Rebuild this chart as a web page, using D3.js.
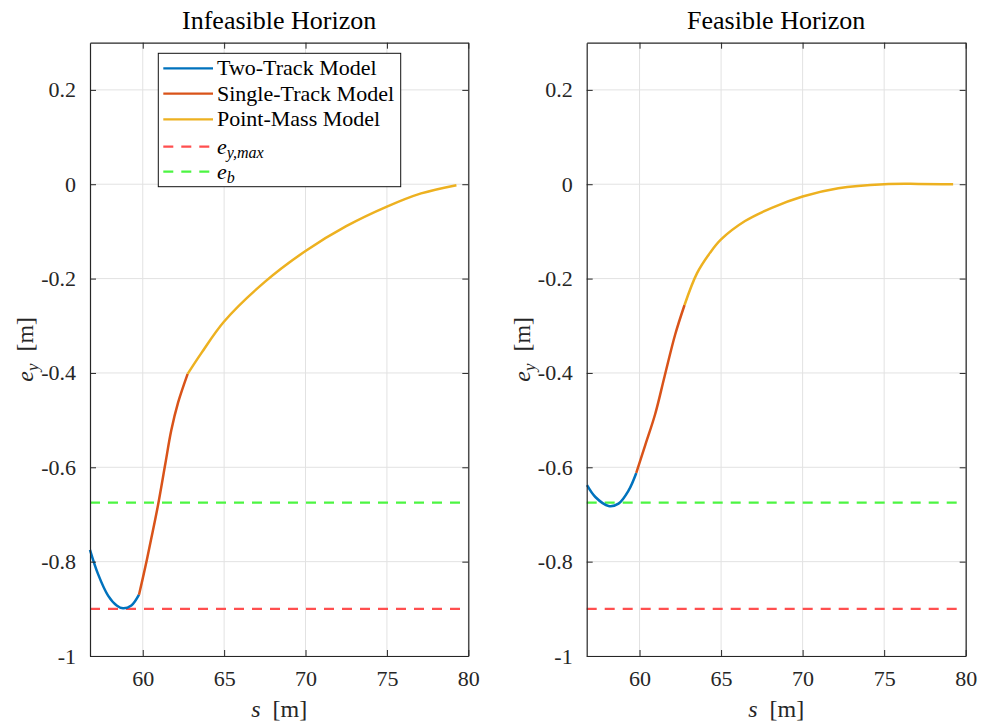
<!DOCTYPE html>
<html>
<head>
<meta charset="utf-8">
<script src="https://cdn.jsdelivr.net/npm/d3@7"></script>
<style>
  body { margin: 0; background: #fff; }
  svg { display: block; }
  svg text { font-family: "Liberation Serif", "Times New Roman", serif; }
</style>
</head>
<body>
<svg id="chart" width="981" height="726"></svg>
<script>
// Lateral deviation e_y along the path s for the three vehicle models.
const xTicks = [60, 65, 70, 75, 80];
const yTicks = [-1, -0.8, -0.6, -0.4, -0.2, 0, 0.2];
const yTickLabels = ["-1", "-0.8", "-0.6", "-0.4", "-0.2", "0", "0.2"];
const xDomain = [56.76, 80];
const yDomain = [-1, 0.3];

const eyMax = -0.9;   // track-boundary limit
const eb = -0.675;    // soft boundary

// Infeasible horizon
const infTwoTrack = [[56.76,-0.775],[57.25,-0.826],[57.87,-0.872],[58.4,-0.893],[58.79,-0.899],[59.30,-0.893],[59.77,-0.870]];
const infSingleTrack = [[59.77,-0.870],[60.16,-0.811],[60.53,-0.750],[60.94,-0.680],[61.39,-0.592],[61.75,-0.522],[62.17,-0.463],[62.76,-0.402]];
const infPointMass = [[62.76,-0.402],[63.6,-0.358],[65.0,-0.291],[67.5,-0.207],[70.0,-0.1415],[72.5,-0.089],[75.0,-0.0475],[77.1,-0.0195],[79.27,-0.002]];

// Feasible horizon
const feaTwoTrack = [[56.78,-0.638],[57.29,-0.663],[58.10,-0.682],[58.71,-0.677],[59.33,-0.649],[59.80,-0.612]];
const feaSingleTrack = [[59.80,-0.612],[60.35,-0.553],[60.96,-0.487],[61.53,-0.408],[62.19,-0.318],[62.76,-0.256]];
const feaPointMass = [[62.76,-0.256],[63.52,-0.189],[64.33,-0.145],[65.0,-0.117],[66.47,-0.078],[68.11,-0.050],[70.0,-0.026],[72.19,-0.0085],[75.0,0.0],[77.1,0.0007],[79.23,0.0]];

const colors = { two: "#0072BD", single: "#D95319", point: "#EDB120", eymax: "#ff4f4f", eb: "#4cf542" };
const axisColor = "#262626";
const gridColor = "#e2e2e2";
const serif = "'Liberation Serif', 'Times New Roman', serif";

const svg = d3.select("#chart");
const plotTop = 42.7, plotBottom = 656;

const panels = [
  { title: "Infeasible Horizon", left: 90, right: 468.3, two: infTwoTrack, single: infSingleTrack, point: infPointMass, legend: true, ylabelX: 33 },
  { title: "Feasible Horizon", left: 586.7, right: 965.7, two: feaTwoTrack, single: feaSingleTrack, point: feaPointMass, legend: false, ylabelX: 530 }
];

panels.forEach(p => {
  const x = d3.scaleLinear().domain(xDomain).range([p.left, p.right]);
  const y = d3.scaleLinear().domain(yDomain).range([plotBottom, plotTop]);
  const g = svg.append("g");

  // grid
  g.append("g").selectAll("line").data(xTicks).join("line")
    .attr("x1", d => x(d)).attr("x2", d => x(d)).attr("y1", plotTop).attr("y2", plotBottom)
    .attr("stroke", gridColor).attr("stroke-width", 1);
  g.append("g").selectAll("line").data(yTicks).join("line")
    .attr("x1", p.left).attr("x2", p.right).attr("y1", d => y(d)).attr("y2", d => y(d))
    .attr("stroke", gridColor).attr("stroke-width", 1);

  // reference limits
  const hline = (v, c) => g.append("line")
    .attr("x1", p.left).attr("x2", x(79.8)).attr("y1", y(v)).attr("y2", y(v))
    .attr("stroke", c).attr("stroke-width", 2.2).attr("stroke-dasharray", "10,8");
  hline(eyMax, colors.eymax);
  hline(eb, colors.eb);

  // model trajectories
  const line = d3.line().x(d => x(d[0])).y(d => y(d[1])).curve(d3.curveCatmullRom.alpha(0.5));
  [[p.two, colors.two], [p.single, colors.single], [p.point, colors.point]].forEach(([data, c]) => {
    g.append("path").datum(data).attr("d", line)
      .attr("fill", "none").attr("stroke", c).attr("stroke-width", 2.5)
      .attr("stroke-linejoin", "round");
  });

  // axes (ticks inward, mirrored on top/right)
  const tl = 6;
  const axB = g.append("g").attr("transform", `translate(0,${plotBottom})`)
    .call(d3.axisBottom(x).tickValues(xTicks).tickSizeInner(-tl).tickSizeOuter(0).tickPadding(14).tickFormat(d3.format("d")));
  const axT = g.append("g").attr("transform", `translate(0,${plotTop})`)
    .call(d3.axisTop(x).tickValues(xTicks).tickSizeInner(-tl).tickSizeOuter(0).tickFormat(""));
  const axL = g.append("g").attr("transform", `translate(${p.left},0)`)
    .call(d3.axisLeft(y).tickValues(yTicks).tickSizeInner(-tl).tickSizeOuter(0).tickPadding(14)
      .tickFormat((d, i) => yTickLabels[i]));
  const axR = g.append("g").attr("transform", `translate(${p.right},0)`)
    .call(d3.axisRight(y).tickValues(yTicks).tickSizeInner(-tl).tickSizeOuter(0).tickFormat(""));
  [axB, axT, axL, axR].forEach(a => {
    a.attr("font-family", serif).attr("font-size", 22);
    a.select(".domain").attr("stroke", axisColor).attr("stroke-width", 1.2);
    a.selectAll(".tick line").attr("stroke", axisColor).attr("stroke-width", 1);
    a.selectAll("text").attr("fill", axisColor)
      .attr("font-family", serif).style("font-family", serif).style("font-size", "22px");
  });
  axB.selectAll("text").attr("dy", "0.71em");

  // title
  g.append("text").attr("x", (p.left + p.right) / 2).attr("y", 29)
    .attr("text-anchor", "middle").attr("font-size", 26).attr("fill", "#000").text(p.title);

  // x label
  const xl = g.append("text").attr("x", (p.left + p.right) / 2).attr("y", 717)
    .attr("text-anchor", "middle").attr("font-size", 24).attr("fill", axisColor);
  xl.append("tspan").attr("font-style", "italic").text("s");
  xl.append("tspan").text("\u2002[m]");

  // y label
  const yl = g.append("text").attr("transform", `translate(${p.ylabelX},${(plotTop + plotBottom) / 2}) rotate(-90)`)
    .attr("text-anchor", "middle").attr("font-size", 24).attr("fill", axisColor);
  yl.append("tspan").attr("font-style", "italic").text("e");
  yl.append("tspan").attr("font-style", "italic").attr("font-size", 17).attr("dy", 5).text("y");
  yl.append("tspan").attr("dy", -5).text("\u2002[m]");

  if (p.legend) {
    const lg = g.append("g");
    lg.append("rect").attr("x", 158.3).attr("y", 53.3).attr("width", 242.4).attr("height", 133.4)
      .attr("fill", "#fff").attr("stroke", "#111").attr("stroke-width", 1);
    const items = [
      { label: "Two-Track Model", c: colors.two, dash: null },
      { label: "Single-Track Model", c: colors.single, dash: null },
      { label: "Point-Mass Model", c: colors.point, dash: null },
      { label: "eymax", c: colors.eymax, dash: "10,8" },
      { label: "eb", c: colors.eb, dash: "10,8" }
    ];
    const rowY = [68.3, 93.6, 119.3, 146.7, 171.7];
    items.forEach((it, i) => {
      lg.append("line").attr("x1", 163.3).attr("x2", 213).attr("y1", rowY[i]).attr("y2", rowY[i])
        .attr("stroke", it.c).attr("stroke-width", 2.2).attr("stroke-dasharray", it.dash);
      const t = lg.append("text").attr("x", 217).attr("y", rowY[i] + 7).attr("font-size", 22).attr("fill", "#000");
      if (it.label === "eymax") {
        t.append("tspan").attr("font-style", "italic").text("e");
        t.append("tspan").attr("font-style", "italic").attr("font-size", 16).attr("dy", 4).text("y,max");
      } else if (it.label === "eb") {
        t.append("tspan").attr("font-style", "italic").text("e");
        t.append("tspan").attr("font-style", "italic").attr("font-size", 16).attr("dy", 4).text("b");
      } else {
        t.text(it.label);
      }
    });
  }
});
</script>
</body>
</html>
